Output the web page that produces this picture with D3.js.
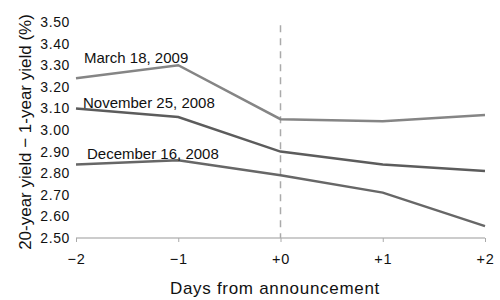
<!DOCTYPE html>
<html>
<head>
<meta charset="utf-8">
<script src="https://cdn.jsdelivr.net/npm/d3@7"></script>
<style>
  body { margin: 0; background: #fff; }
  svg { display: block; font-family: "Liberation Sans", Arial, sans-serif; }
</style>
</head>
<body>
<div id="chart"></div>
<script>
// data
const days = [-2, -1, 0, 1, 2]
const dayLabels = ['\u22122', '\u22121', '+0', '+1', '+2']
const yTicks = [2.5, 2.6, 2.7, 2.8, 2.9, 3.0, 3.1, 3.2, 3.3, 3.4, 3.5]
const march2009 = [3.24, 3.30, 3.05, 3.04, 3.07]
const nov2008 = [3.10, 3.06, 2.90, 2.84, 2.81]
const dec2008 = [2.84, 2.86, 2.79, 2.71, 2.555]
const seriesNames = ['March 18, 2009', 'November 25, 2008', 'December 16, 2008']

const W = 500, H = 300
const margin = { top: 22, right: 15, bottom: 62, left: 76 }
const w = W - margin.left - margin.right
const h = H - margin.top - margin.bottom

const svg = d3.select('#chart').append('svg').attr('width', W).attr('height', H)
const g = svg.append('g').attr('transform', `translate(${margin.left},${margin.top})`)

const x = d3.scaleLinear().domain([-2, 2]).range([0, w])
const y = d3.scaleLinear().domain([2.5, 3.5]).range([h, 0])

// y tick labels only, no axis line
g.selectAll('.ylab')
  .data(yTicks)
  .join('text')
  .attr('class', 'ylab')
  .attr('x', -6).attr('y', d => y(d))
  .attr('dy', '0.36em')
  .attr('text-anchor', 'end')
  .attr('font-size', 14)
  .attr('letter-spacing', 0.6)
  .attr('fill', '#111')
  .text(d => d.toFixed(2))

// x axis
const xAxis = g.append('g').attr('transform', `translate(0,${h})`)
  .call(d3.axisBottom(x).tickValues(days).tickSize(4).tickFormat((d, i) => dayLabels[i]))
xAxis.attr('font-family', null)
xAxis.select('.domain').attr('stroke', '#999').attr('d', `M0,0H${w}`)
xAxis.selectAll('.tick line').attr('stroke', '#aaa')
xAxis.selectAll('.tick text')
  .attr('font-size', 14.5).attr('fill', '#111')
  .attr('letter-spacing', 0.8)
  .attr('y', 26).attr('dy', 0)

// announcement day marker
g.append('line')
  .attr('x1', x(0)).attr('x2', x(0))
  .attr('y1', y(3.485)).attr('y2', h)
  .attr('stroke', '#aaa').attr('stroke-width', 1.5)
  .attr('stroke-dasharray', '7,6')

const lineGen = d3.line()
  .x((d, i) => x(days[i]))
  .y(d => y(d))

const series = [
  { name: seriesNames[0], values: march2009, color: '#858585', lx: 8, ly: 63 },
  { name: seriesNames[1], values: nov2008, color: '#5c5c5c', lx: 7, ly: 108 },
  { name: seriesNames[2], values: dec2008, color: '#676767', lx: 11, ly: 159 }
]

series.forEach(s => {
  g.append('path')
    .datum(s.values)
    .attr('fill', 'none')
    .attr('stroke', s.color)
    .attr('stroke-width', 2.5)
    .attr('d', lineGen)
  g.append('text')
    .attr('x', s.lx).attr('y', s.ly - margin.top)
    .attr('font-size', 15)
    .attr('fill', '#111')
    .text(s.name)
})

// axis titles
svg.append('text')
  .attr('transform', 'translate(31,132) rotate(-90)')
  .attr('text-anchor', 'middle')
  .attr('font-size', 17)
  .attr('fill', '#111')
  .text('20-year yield \u2212 1-year yield (%)')

svg.append('text')
  .attr('x', 275).attr('y', 294)
  .attr('text-anchor', 'middle')
  .attr('font-size', 17)
  .attr('letter-spacing', 0.7)
  .attr('fill', '#111')
  .text('Days from announcement')
</script>
</body>
</html>
